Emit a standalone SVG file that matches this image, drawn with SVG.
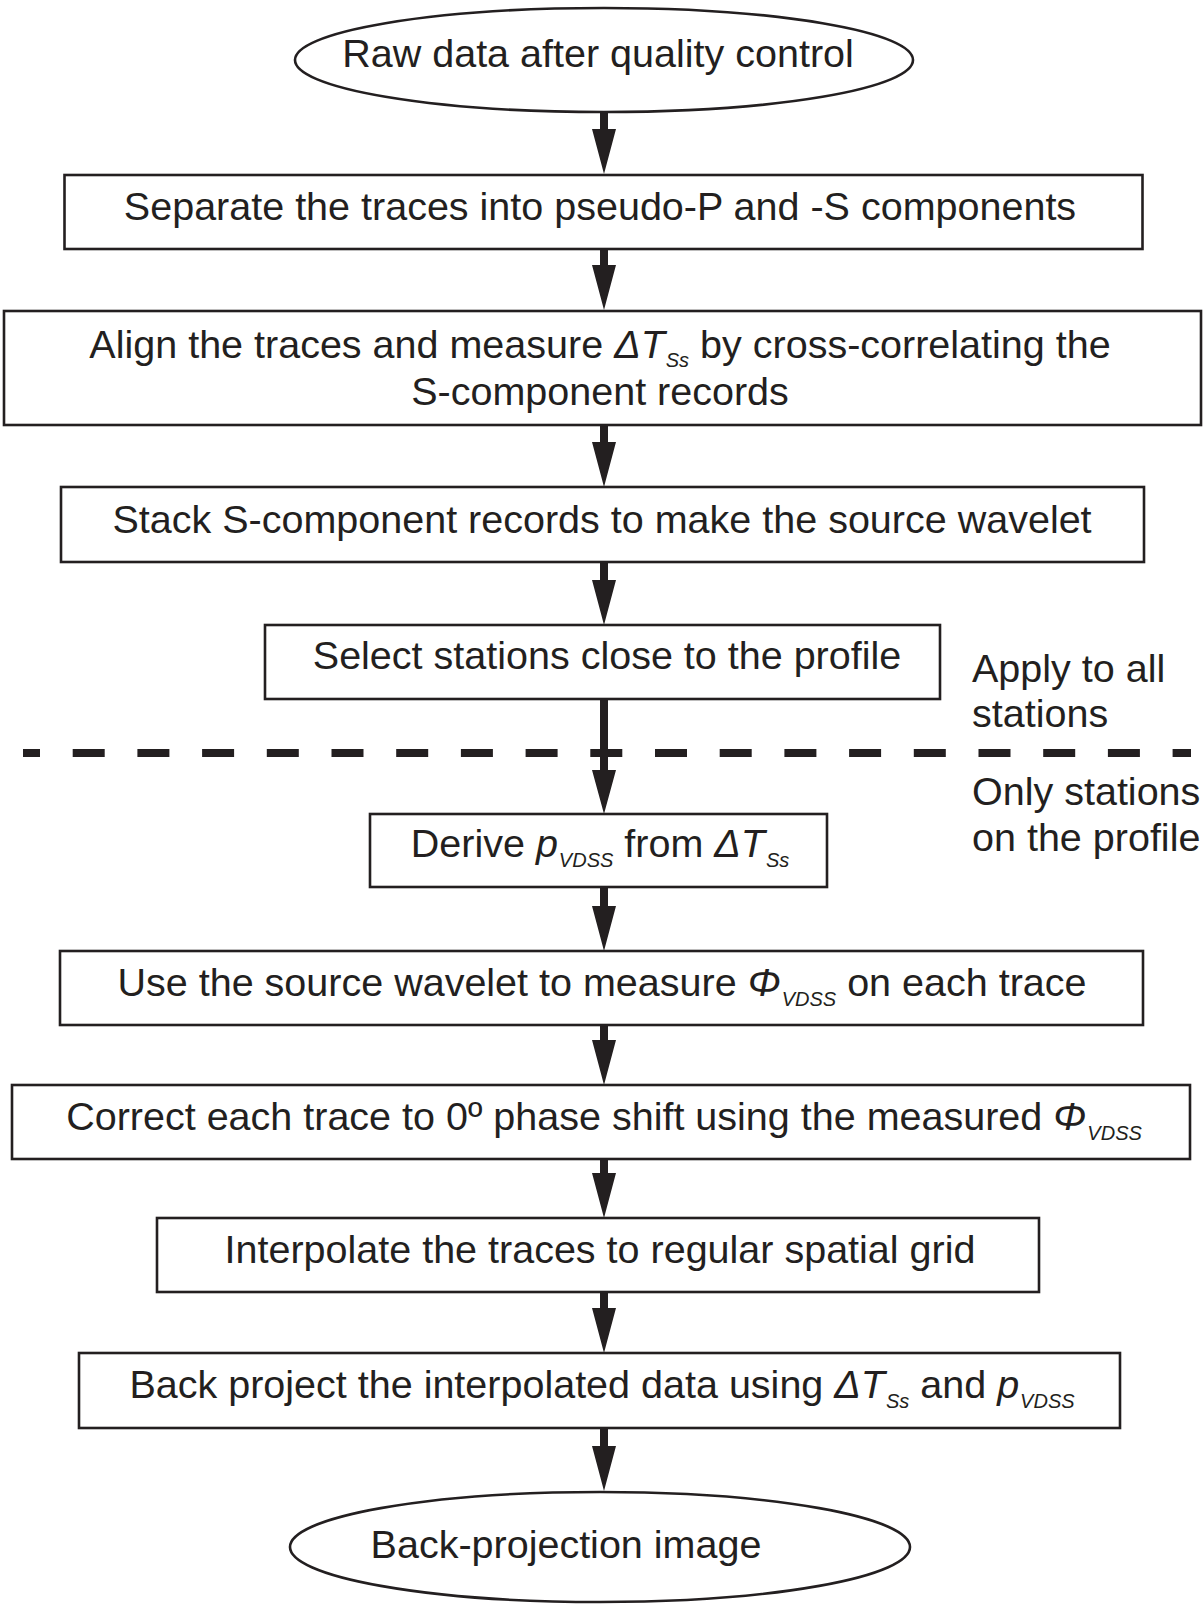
<svg xmlns="http://www.w3.org/2000/svg" width="1204" height="1606" viewBox="0 0 1204 1606">
<style>
  .box { fill: #ffffff; stroke: #231f20; stroke-width: 2.6; }
  .t { font-family: "Liberation Sans", Arial, Helvetica, sans-serif; font-size: 39.5px; fill: #231f20; }
  .m { text-anchor: middle; }
  .it { font-style: italic; }
  .sub { font-style: italic; font-size: 20px; }
  .arrow { fill: #231f20; }
  .dash { stroke: #231f20; stroke-width: 8; stroke-dasharray: 32 32.7; stroke-dashoffset: 15; fill: none; }
</style>
<rect x="0" y="0" width="1204" height="1606" fill="#ffffff"/>

<g id="connectors">
  <line class="dash" x1="23" y1="753" x2="1191" y2="753"/>
  <path class="arrow" d="M600,112 H608 V129 H616 L604,174 L592,129 H600 Z"/>
  <path class="arrow" d="M600,249 H608 V265 H616 L604,310 L592,265 H600 Z"/>
  <path class="arrow" d="M600,425 H608 V442 H616 L604,487 L592,442 H600 Z"/>
  <path class="arrow" d="M600,562 H608 V580 H616 L604,625 L592,580 H600 Z"/>
  <path class="arrow" d="M600,699 H608 V770 H616 L604,814 L592,770 H600 Z"/>
  <path class="arrow" d="M600,887 H608 V906 H616 L604,951 L592,906 H600 Z"/>
  <path class="arrow" d="M600,1025 H608 V1040 H616 L604,1085 L592,1040 H600 Z"/>
  <path class="arrow" d="M600,1159 H608 V1173 H616 L604,1218 L592,1173 H600 Z"/>
  <path class="arrow" d="M600,1292 H608 V1308 H616 L604,1353 L592,1308 H600 Z"/>
  <path class="arrow" d="M600,1428 H608 V1446 H616 L604,1491 L592,1446 H600 Z"/>
</g>

<g id="start">
  <ellipse class="box" cx="604" cy="60" rx="309" ry="52"/>
  <text class="t m" x="598" y="67">Raw data after quality control</text>
</g>

<g id="separate">
  <rect class="box" x="64.5" y="175" width="1078" height="74"/>
  <text class="t m" x="600" y="220">Separate the traces into pseudo-P and -S components</text>
</g>

<g id="align">
  <rect class="box" x="4" y="311" width="1197" height="114"/>
  <text class="t m" x="600" y="358">Align the traces and measure <tspan class="it">ΔT</tspan><tspan class="sub" dx="1" dy="9">Ss</tspan><tspan dy="-9"> by cross-correlating the</tspan></text>
  <text class="t m" x="600" y="405">S-component records</text>
</g>

<g id="stack">
  <rect class="box" x="61" y="487" width="1083" height="75"/>
  <text class="t m" x="602" y="533">Stack S-component records to make the source wavelet</text>
</g>

<g id="select">
  <rect class="box" x="265" y="625" width="675" height="74"/>
  <text class="t m" x="607" y="669">Select stations close to the profile</text>
</g>

<g id="side-labels">
  <text class="t" x="972" y="682">Apply to all</text>
  <text class="t" x="972" y="727">stations</text>
  <text class="t" x="972" y="805">Only stations</text>
  <text class="t" x="972" y="851">on the profile</text>
</g>

<g id="derive">
  <rect class="box" x="370" y="814" width="457" height="73"/>
  <text class="t m" x="600" y="857">Derive <tspan class="it">p</tspan><tspan class="sub" dx="1" dy="10">VDSS</tspan><tspan dy="-10"> from </tspan><tspan class="it">ΔT</tspan><tspan class="sub" dx="1" dy="10">Ss</tspan></text>
</g>

<g id="measure">
  <rect class="box" x="60" y="951" width="1083" height="74"/>
  <text class="t m" x="602" y="996">Use the source wavelet to measure <tspan class="it">Φ</tspan><tspan class="sub" dx="1" dy="10">VDSS</tspan><tspan dy="-10"> on each trace</tspan></text>
</g>

<g id="correct">
  <rect class="box" x="12" y="1085" width="1178" height="74"/>
  <text class="t m" x="604" y="1130">Correct each trace to 0º phase shift using the measured <tspan class="it">Φ</tspan><tspan class="sub" dx="1" dy="10">VDSS</tspan></text>
</g>

<g id="interpolate">
  <rect class="box" x="157" y="1218" width="882" height="74"/>
  <text class="t m" x="600" y="1263">Interpolate the traces to regular spatial grid</text>
</g>

<g id="backproject">
  <rect class="box" x="79" y="1353" width="1041" height="75"/>
  <text class="t m" x="602" y="1398">Back project the interpolated data using <tspan class="it">ΔT</tspan><tspan class="sub" dx="1" dy="10">Ss</tspan><tspan dy="-10"> and </tspan><tspan class="it">p</tspan><tspan class="sub" dx="1" dy="10">VDSS</tspan></text>
</g>

<g id="end">
  <ellipse class="box" cx="600" cy="1547" rx="310" ry="55"/>
  <text class="t m" x="566" y="1558">Back-projection image</text>
</g>
</svg>
